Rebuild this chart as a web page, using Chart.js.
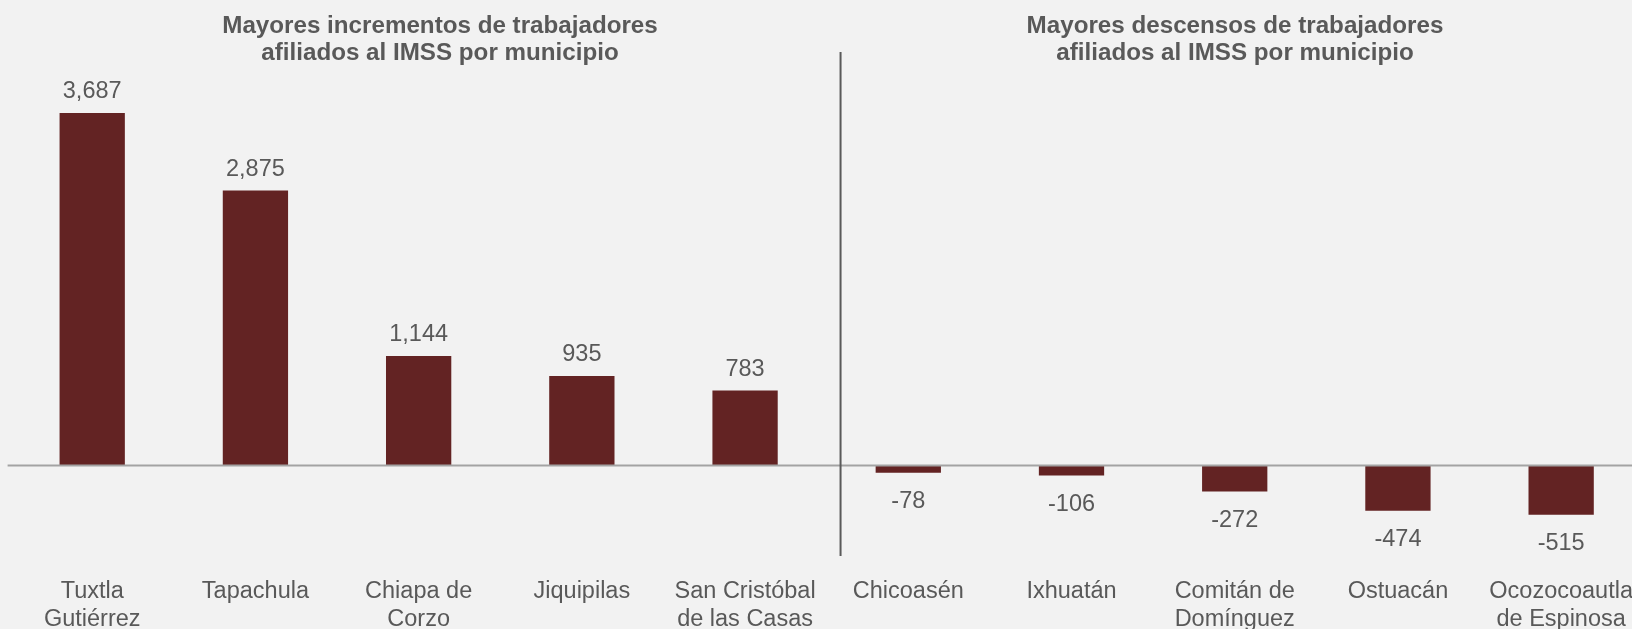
<!DOCTYPE html>
<html>
<head>
<meta charset="utf-8">
<script src="https://cdn.jsdelivr.net/npm/chart.js@4.4.1/dist/chart.umd.min.js"></script>
<style>
  html, body { margin: 0; padding: 0; background: #f2f2f2; overflow: hidden; }
  #wrap { width: 1649px; height: 629px; position: relative; }
</style>
</head>
<body>
<div id="wrap"><canvas id="chart"></canvas></div>
<script>
const municipios = [
    ['Tuxtla', 'Gutiérrez'],
    'Tapachula',
    ['Chiapa de', 'Corzo'],
    'Jiquipilas',
    ['San Cristóbal', 'de las Casas'],
    'Chicoasén',
    'Ixhuatán',
    ['Comitán de', 'Domínguez'],
    'Ostuacán',
    ['Ocozocoautla', 'de Espinosa']
];
const variacion = [3687, 2875, 1144, 935, 783, -78, -106, -272, -474, -515];
const titulos = [
    ['Mayores incrementos de trabajadores', 'afiliados al IMSS por municipio'],
    ['Mayores descensos de trabajadores', 'afiliados al IMSS por municipio']
];

const textColor = '#595959';
const barColor = '#632323';
const fontFamily = '"Liberation Sans", Arial, sans-serif';

// zero line, divider, value labels and the two panel titles
const decorPlugin = {
    id: 'decor',
    afterDatasetsDraw(chart) {
        const ctx = chart.ctx;
        const area = chart.chartArea;
        const x = chart.scales.x;
        const y = chart.scales.y;
        const zeroY = y.getPixelForValue(0);

        ctx.save();
        ctx.strokeStyle = '#a3a3a3';
        ctx.lineWidth = 2;
        ctx.beginPath();
        ctx.moveTo(area.left - 3, zeroY);
        ctx.lineTo(chart.width, zeroY);
        ctx.stroke();

        const divX = x.getPixelForValue(4.585);
        ctx.strokeStyle = '#5a5a5a';
        ctx.lineWidth = 2;
        ctx.beginPath();
        ctx.moveTo(divX, 52);
        ctx.lineTo(divX, 556);
        ctx.stroke();

        ctx.fillStyle = textColor;
        ctx.font = '23.5px ' + fontFamily;
        ctx.textAlign = 'center';
        chart.getDatasetMeta(0).data.forEach((bar, i) => {
            const v = variacion[i];
            const txt = v.toLocaleString('en-US');
            if (v >= 0) {
                ctx.textBaseline = 'alphabetic';
                ctx.fillText(txt, bar.x, bar.y - 15);
            } else {
                ctx.textBaseline = 'middle';
                ctx.fillText(txt, bar.x, bar.y + 29);
            }
        });

        ctx.font = 'bold 24.2px ' + fontFamily;
        ctx.textBaseline = 'alphabetic';
        const centers = [440, 1235];
        titulos.forEach((lines, k) => {
            lines.forEach((line, j) => {
                ctx.fillText(line, centers[k], 33 + j * 27);
            });
        });
        ctx.restore();
    }
};

new Chart(document.getElementById('chart'), {
    type: 'bar',
    data: {
        labels: municipios,
        datasets: [{
            data: variacion,
            backgroundColor: barColor,
            borderWidth: 0,
            barPercentage: 1,
            categoryPercentage: 0.4
        }]
    },
    options: {
        responsive: true,
        maintainAspectRatio: false,
        animation: false,
        layout: { padding: { left: 10.6, right: 0, top: 83, bottom: 0 } },
        plugins: {
            legend: { display: false },
            tooltip: { enabled: false }
        },
        scales: {
            x: {
                offset: true,
                grid: { display: false, drawTicks: false },
                border: { display: false },
                ticks: {
                    color: textColor,
                    font: { family: fontFamily, size: 23.5, lineHeight: 1.2 },
                    padding: 16,
                    maxRotation: 0,
                    autoSkip: false
                },
                afterFit(scale) { scale.height = 68; }
            },
            y: {
                display: false,
                min: -1000,
                max: 4000
            }
        }
    },
    plugins: [decorPlugin]
});
</script>
</body>
</html>
